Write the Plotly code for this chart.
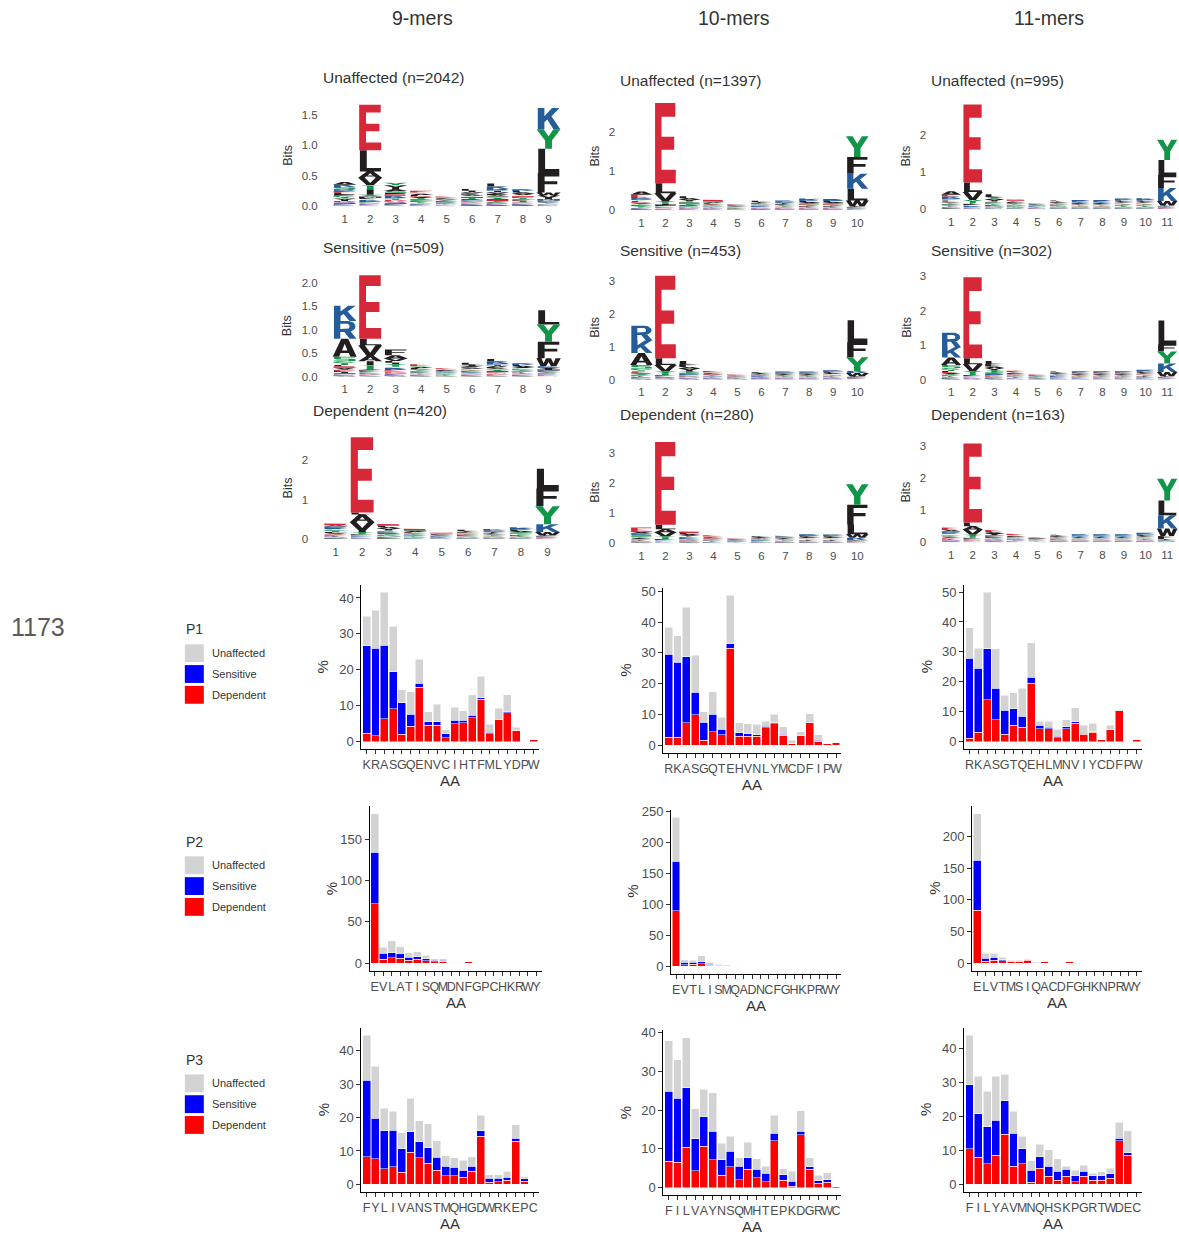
import numpy as np
import plotly.graph_objects as go

W, H = 1179, 1238
FONT = "Liberation Sans, Arial, sans-serif"
TICKC = "#4D4D4D"

# ================= BAR DATA (percent per amino acid) =================
aa_p1_9 = list("KRASGQENVCIHTFMLYDPW")
dep_p1_9 = [2.3, 1.7, 6.4, 9.2, 2.1, 4.3, 15.1, 4.6, 4.6, 1.1, 5.0, 5.3, 6.7, 11.8, 2.2, 6.1, 8.1, 3.2, 0.0, 0.5]
sen_p1_9 = [24.4, 24.3, 20.5, 10.3, 8.7, 3.3, 1.2, 1.0, 1.0, 1.1, 1.0, 0.7, 0.7, 0.5, 0.4, 0.2, 0.2, 0.0, 0.0, 0.0]
unf_p1_9 = [8.2, 10.6, 14.7, 12.7, 3.6, 6.3, 6.7, 2.7, 4.8, 1.1, 3.6, 2.6, 5.6, 5.9, 2.2, 3.0, 4.7, 0.8, 0.1, 0.1]

aa_p1_10 = list("RKASGQTEHVNLYMCDFIPW")
dep_p1_10 = [2.5, 2.5, 7.3, 9.9, 1.5, 4.4, 3.3, 31.5, 2.9, 2.9, 2.9, 5.7, 6.9, 3.2, 0.6, 3.1, 7.3, 1.3, 0.5, 0.7]
sen_p1_10 = [27.1, 24.4, 21.4, 7.3, 6.0, 5.7, 1.8, 1.5, 1.1, 0.8, 0.5, 0.4, 0.4, 0.3, 0.0, 0.1, 0.2, 0.2, 0.0, 0.05]
unf_p1_10 = [8.8, 8.6, 16.2, 12.0, 3.3, 7.3, 4.0, 15.7, 3.3, 3.3, 3.3, 1.6, 2.7, 2.5, 0.9, 1.2, 2.7, 1.9, 0.0, 0.0]

aa_p1_11 = list("RKASGTQEHLMNVIYCDFPW")
dep_p1_11 = [1.1, 3.1, 14.0, 7.4, 2.5, 5.5, 4.9, 19.6, 4.3, 4.3, 1.3, 4.4, 6.1, 2.5, 3.1, 0.6, 4.2, 10.4, 0.0, 0.7]
sen_p1_11 = [26.8, 21.4, 17.0, 10.5, 8.0, 5.5, 3.6, 1.9, 1.2, 0.6, 0.5, 0.6, 0.5, 0.3, 0.2, 0.0, 0.0, 0.0, 0.0, 0.0]
unf_p1_11 = [10.1, 6.8, 18.9, 13.2, 5.0, 5.4, 9.4, 11.6, 1.3, 1.9, 2.3, 2.4, 4.8, 2.7, 2.8, 0.0, 1.3, 0.3, 0.0, 0.0]

aa_p2_9 = list("EVLATISQMDNFGPCHKRWY")
dep_p2_9 = [72.0, 4.8, 6.4, 5.6, 3.2, 4.4, 2.8, 1.6, 2.0, 1.2, 1.0, 2.0, 1.0, 0.2, 0.3, 0.3, 0.3, 0.3, 0.3, 0.5]
sen_p2_9 = [62.0, 7.2, 6.4, 5.6, 4.0, 3.2, 2.4, 1.6, 1.2, 0.0, 0.0, 0.0, 0.0, 0.4, 0.0, 0.0, 0.0, 0.0, 0.0, 0.0]
unf_p2_9 = [46.8, 7.2, 14.0, 8.4, 5.6, 6.0, 4.4, 2.0, 2.0, 0.0, 0.0, 0.4, 0.0, 0.0, 0.0, 0.0, 0.0, 0.0, 0.0, 0.0]

aa_p2_10 = list("EVTLISMQADNCFGHKPRWY")
dep_p2_10 = [90.0, 2.7, 3.2, 4.3, 2.0, 1.0, 1.0, 0.3, 1.5, 0.8, 0.5, 0.5, 0.8, 0.5, 0.3, 0.3, 0.5, 0.5, 0.3, 0.3]
sen_p2_10 = [80.0, 4.2, 3.2, 3.2, 1.7, 1.1, 0.6, 0.8, 0.0, 0.0, 0.0, 0.0, 0.0, 0.0, 0.0, 0.0, 0.0, 0.0, 0.0, 0.0]
unf_p2_10 = [71.5, 3.8, 3.2, 9.5, 3.2, 1.1, 1.1, 0.2, 0.5, 0.2, 0.0, 0.0, 0.0, 0.0, 0.0, 0.0, 0.0, 0.0, 0.0, 0.0]

aa_p2_11 = list("ELVTMSIQACDFGHKNPRWY")
dep_p2_11 = [83.5, 2.6, 4.2, 3.7, 2.1, 2.1, 4.2, 0.0, 3.1, 0.3, 0.3, 2.1, 0.3, 0.3, 0.3, 0.3, 0.3, 0.3, 0.3, 0.3]
sen_p2_11 = [79.5, 5.2, 5.2, 2.0, 1.0, 1.0, 1.0, 1.0, 0.0, 0.0, 0.0, 0.0, 0.0, 0.0, 0.0, 0.0, 0.0, 0.0, 0.0, 0.0]
unf_p2_11 = [73.0, 7.9, 6.3, 3.7, 1.1, 1.1, 1.6, 0.0, 0.6, 0.0, 0.0, 0.0, 0.0, 0.0, 0.0, 0.0, 0.0, 0.0, 0.0, 0.0]

aa_p3_9 = list("FYLIVANSTMQHGDWRKEPC")
dep_p3_9 = [8.3, 7.6, 4.7, 5.3, 3.7, 9.6, 7.9, 6.4, 4.3, 2.6, 2.6, 2.1, 3.9, 14.4, 0.6, 0.8, 1.2, 12.9, 1.0, 0.1]
sen_p3_9 = [22.8, 12.2, 11.3, 10.9, 6.9, 6.2, 4.8, 4.5, 3.8, 2.9, 2.5, 2.1, 1.6, 1.6, 1.2, 1.1, 1.0, 0.9, 0.7, 0.0]
unf_p3_9 = [13.5, 15.6, 6.7, 5.7, 4.9, 10.0, 6.3, 7.2, 4.9, 3.0, 2.8, 3.0, 2.8, 4.7, 1.1, 1.0, 1.8, 4.0, 0.6, 0.0]

aa_p3_10 = list("FILVAYNSQMHTEPKDGRWC")
dep_p3_10 = [6.8, 6.6, 10.4, 4.4, 10.7, 7.2, 3.2, 5.4, 2.1, 4.7, 2.6, 1.5, 12.1, 1.9, 0.4, 13.6, 4.7, 1.1, 1.4, 0.0]
sen_p3_10 = [18.1, 16.5, 15.4, 8.2, 7.6, 7.3, 4.0, 4.0, 3.4, 3.0, 2.1, 2.2, 1.9, 1.5, 1.3, 0.9, 0.7, 0.7, 0.6, 0.3]
unf_p3_10 = [13.0, 9.9, 12.8, 7.8, 7.0, 10.0, 4.3, 3.8, 2.2, 4.0, 2.8, 1.8, 4.6, 1.5, 2.6, 5.3, 2.3, 1.4, 1.8, 0.0]

aa_p3_11 = list("FILYAVMNQHSKPGRTWDEC")
dep_p3_11 = [10.5, 7.9, 6.0, 8.5, 14.7, 5.4, 6.1, 0.7, 4.8, 2.4, 1.2, 2.4, 0.8, 2.4, 1.2, 1.2, 1.8, 12.8, 8.6, 0.1]
sen_p3_11 = [18.7, 12.9, 10.9, 10.3, 9.9, 9.6, 4.4, 3.5, 3.3, 2.9, 2.6, 2.0, 1.7, 1.4, 1.3, 1.3, 1.3, 0.8, 0.7, 0.0]
unf_p3_11 = [14.6, 10.9, 10.4, 13.0, 7.7, 6.5, 3.6, 2.8, 3.7, 4.8, 3.7, 1.0, 1.7, 1.8, 0.8, 1.2, 1.7, 4.6, 6.4, 0.0]

# ================= LOGO DATA (letter+bits, bottom -> top per position) =================
logo_unaff_9 = [
    "W.005 C.01 M.01 H.01 N.015 Q.015 D.02 I.02 V.02 T.02 G.025 F.025 L.025 E.03 R.03 S.035 K.04 A.045",
    "W.005 C.005 H.01 N.01 Q.01 D.01 G.015 R.015 K.02 S.02 F.02 M.02 Y.03 I.09 T.07 V.12 A.10 L.35 E.75",
    "W.005 C.01 H.01 M.01 N.015 Q.015 G.02 D.02 T.02 R.02 K.025 E.025 F.025 S.03 A.03 I.03 V.035 Y.04",
    "W.005 C.005 M.01 H.01 N.01 Q.01 I.01 Y.015 F.015 G.015 K.015 T.015 V.015 D.015 L.02 A.02 S.02 E.03",
    "W.005 C.005 M.005 H.005 N.005 Q.005 I.005 Y.01 F.01 G.01 K.01 R.01 T.01 V.01 D.01 L.01 A.01 S.01 E.015",
    "C.005 W.005 M.01 H.01 N.01 Q.01 D.01 Y.015 G.015 R.015 K.015 T.015 E.015 S.02 A.02 F.02 V.02 I.025 L.03",
    "C.005 W.005 M.01 N.01 Q.01 D.015 G.015 T.015 E.015 H.02 Y.02 S.02 A.02 F.025 V.025 I.025 R.03 K.04 L.05",
    "C.005 W.005 M.01 H.01 N.01 Q.01 D.01 Y.015 I.015 F.015 G.015 T.015 R.015 E.015 S.02 V.02 A.02 L.025 K.03",
    "C.005 D.005 E.005 G.005 N.005 Q.005 P.005 S.01 T.01 A.01 H.01 R.02 M.02 I.03 V.03 W.05 F.32 L.40 Y.32 K.35",
]
logo_unaff_10 = [
    "W.01 C.01 M.01 H.01 N.015 Q.015 I.015 Y.02 F.02 G.02 T.02 V.02 D.02 L.025 S.03 R.035 K.04 E.06 A.08",
    "W.005 C.005 H.01 N.01 Q.01 D.01 G.01 R.015 K.015 S.015 F.02 M.02 I.02 T.03 Y.04 V.20 L.25 E2.05",
    "W.005 C.005 M.01 H.01 N.01 Q.01 D.015 G.015 Y.015 R.02 K.02 T.02 E.02 F.02 S.025 I.025 V.03 A.03 L.05",
    "W.005 C.005 M.01 H.01 N.01 Q.01 I.01 Y.015 F.015 G.015 K.015 T.015 V.015 D.015 L.02 A.02 S.02 E.04",
    "W.005 C.005 M.005 H.005 N.005 Q.005 I.005 Y.01 F.01 G.01 K.01 R.01 T.01 V.01 D.01 L.01 A.01 S.01 E.015",
    "C.005 W.005 M.01 H.01 N.01 Q.01 D.01 Y.01 G.01 R.01 K.015 T.015 E.015 S.015 A.015 F.015 V.015 I.015 L.03",
    "C.005 W.005 M.01 H.01 N.01 Q.01 D.01 Y.01 G.01 E.01 T.015 S.015 A.015 F.015 V.015 I.015 R.02 L.02 K.03",
    "C.005 W.005 M.01 H.01 N.01 Q.01 D.01 Y.015 I.015 F.015 G.015 T.015 E.015 S.02 V.02 A.02 L.025 R.025 K.035",
    "C.005 W.005 M.01 H.01 N.01 Q.01 D.01 Y.015 I.015 F.015 G.015 T.015 E.015 S.02 V.02 A.02 L.025 R.02 K.03",
    "C.005 D.005 E.005 G.005 N.005 Q.005 P.005 S.005 T.005 A.005 H.01 R.01 M.01 I.01 V.01 W.15 L.30 K.38 F.43 Y.53",
]
logo_unaff_11 = [
    "W.01 C.01 M.01 H.01 N.015 Q.015 I.015 Y.02 F.02 G.02 T.02 V.02 D.02 L.025 S.03 R.035 K.045 E.05 A.09",
    "W.005 C.005 H.01 N.01 Q.01 D.01 G.01 R.015 K.015 S.015 F.02 M.02 I.02 T.03 Y.05 V.22 L.25 E2.1",
    "W.005 C.005 M.01 H.01 N.01 Q.01 D.015 G.015 R.02 K.02 T.02 E.02 F.02 S.025 I.025 V.03 A.03 Y.04 L.07",
    "W.005 C.005 M.01 H.01 N.01 Q.01 I.01 Y.015 F.015 G.015 K.015 T.015 V.015 D.015 L.02 A.02 S.02 E.035",
    "W.005 C.005 M.005 H.005 N.005 Q.005 I.005 Y.01 F.01 G.01 K.01 R.01 T.01 V.01 D.01 L.01 A.01 S.01 E.015",
    "C.005 W.005 M.01 H.01 N.01 Q.01 D.01 Y.01 G.01 R.01 K.015 T.015 E.015 S.015 A.015 F.015 V.015 I.015 L.025",
    "C.005 W.005 M.01 H.01 N.01 Q.01 D.01 Y.01 G.01 E.01 T.015 S.015 A.015 F.015 V.015 I.015 R.02 L.02 K.025",
    "C.005 W.005 M.01 H.01 N.01 Q.01 D.01 Y.01 G.01 E.01 T.015 S.015 A.015 F.015 V.015 I.015 R.02 L.02 K.025",
    "C.005 W.005 M.01 H.01 N.01 Q.01 D.01 Y.015 I.015 F.015 G.015 T.015 E.015 S.02 V.02 A.02 L.025 R.02 K.03",
    "C.005 W.005 M.01 H.01 N.01 Q.01 D.01 Y.015 I.015 F.015 G.015 T.015 E.015 S.02 V.02 A.02 L.025 R.025 K.035",
    "C.005 D.005 E.005 G.005 N.005 Q.005 P.005 S.005 T.005 A.005 H.01 R.01 M.01 I.01 V.01 W.12 K.35 F.35 L.40 Y.55",
]
logo_sens_9 = [
    "W.01 C.01 M.01 H.015 Q.015 N.02 I.02 F.02 D.02 Y.025 V.025 E.03 L.03 T.035 G.04 S.10 A.38 R.38 K.32",
    "W.005 C.005 H.01 N.01 Q.01 D.01 G.01 R.015 K.015 S.015 F.015 M.015 Y.02 T.09 I.08 A.12 V.22 L.14 E1.35",
    "W.01 C.01 M.01 H.015 N.015 Q.015 D.02 G.02 E.02 R.025 K.025 S.025 T.025 Y.03 I.03 L.04 V.05 A.07 F.12",
    "W.005 C.005 M.01 H.01 N.01 Q.01 I.01 Y.015 F.015 G.015 K.015 T.015 V.015 D.015 L.02 A.02 S.02 E.04",
    "W.005 C.005 M.005 H.005 N.005 Q.005 I.01 Y.01 F.01 G.01 K.01 R.01 T.01 V.01 D.01 L.01 A.015 S.015 E.02",
    "C.005 W.005 M.01 H.01 N.01 Q.01 D.01 Y.015 G.015 R.015 K.015 T.015 E.015 S.02 A.02 F.02 V.02 I.025 L.04",
    "C.005 W.005 M.01 N.01 Q.01 D.015 G.015 T.015 E.015 H.02 Y.02 S.02 A.02 F.025 V.025 I.025 R.03 K.04 L.05",
    "C.005 W.005 M.01 H.01 N.01 Q.01 D.01 Y.015 I.015 F.015 G.015 T.015 R.015 E.015 S.02 V.02 A.02 L.025 K.035",
    "C.01 D.01 E.01 G.01 N.01 Q.01 P.01 S.01 T.01 A.01 H.01 R.02 M.02 I.02 V.02 K.03 W.17 F.35 Y.37 L.30",
]
logo_sens_10 = [
    "W.01 C.01 M.01 H.015 Q.015 N.02 I.02 F.02 D.02 Y.025 V.025 E.03 L.03 T.035 G.04 S.12 A.36 K.38 R.45",
    "W.005 C.005 H.01 N.01 Q.01 D.01 G.01 R.015 K.015 S.015 F.015 M.015 T.06 Y.05 V.20 L.20 E2.5",
    "W.01 C.01 M.01 H.015 N.015 Q.015 D.02 G.02 E.02 R.025 K.025 S.025 T.025 Y.03 I.03 V.04 A.05 F.08 L.10",
    "W.005 C.005 M.01 H.01 N.01 Q.01 I.01 Y.015 F.015 G.015 K.015 T.015 V.015 D.015 L.02 A.02 S.02 E.035",
    "W.005 C.005 M.005 H.005 N.005 Q.005 I.005 Y.01 F.01 G.01 K.01 R.01 T.01 V.01 D.01 L.01 A.01 S.01 E.015",
    "C.005 W.005 M.01 H.01 N.01 Q.01 D.01 Y.01 G.01 R.01 K.015 T.015 E.015 S.015 A.015 F.015 V.015 I.015 L.025",
    "C.005 W.005 M.01 H.01 N.01 Q.01 D.01 Y.01 G.01 E.01 T.015 S.015 A.015 F.015 V.015 I.015 R.02 L.02 K.025",
    "C.005 W.005 M.01 H.01 N.01 Q.01 D.01 Y.01 G.01 E.01 T.015 S.015 A.015 F.015 V.015 I.015 R.02 L.02 K.025",
    "C.005 W.005 M.01 H.01 N.01 Q.01 D.01 Y.015 I.015 F.015 G.015 T.015 E.015 S.02 V.02 A.02 L.025 R.02 K.03",
    "C.005 D.005 E.005 G.005 N.005 Q.005 P.005 S.005 T.005 A.005 H.01 R.01 M.01 I.01 V.01 W.10 K.06 Y.42 F.45 L.67",
]
logo_sens_11 = [
    "W.01 C.01 M.01 H.015 Q.015 N.02 I.02 F.02 D.02 Y.025 V.025 E.03 L.03 T.035 G.04 S.10 A.22 K.30 R.42",
    "W.005 C.005 H.01 N.01 Q.01 D.01 G.01 R.015 K.015 S.015 F.015 M.015 T.06 Y.05 V.20 L.18 E2.35",
    "W.01 C.01 M.01 H.015 N.015 Q.015 D.02 G.02 E.02 R.025 K.025 S.025 T.025 Y.03 I.03 V.04 A.05 F.07 L.09",
    "W.005 C.005 M.01 H.01 N.01 Q.01 I.01 Y.015 F.015 G.015 K.015 T.015 V.015 D.015 L.02 A.02 S.02 E.035",
    "W.005 C.005 M.005 H.005 N.005 Q.005 I.005 Y.01 F.01 G.01 K.01 R.01 T.01 V.01 D.01 L.01 A.01 S.01 E.015",
    "C.005 W.005 M.01 H.01 N.01 Q.01 D.01 Y.01 G.01 R.01 K.015 T.015 E.015 S.015 A.015 F.015 V.015 I.015 L.025",
    "C.005 W.005 M.01 H.01 N.01 Q.01 D.01 Y.01 G.01 E.01 T.015 S.015 A.015 F.015 V.015 I.015 R.02 L.02 K.025",
    "C.005 W.005 M.01 H.01 N.01 Q.01 D.01 Y.01 G.01 E.01 T.015 S.015 A.015 F.015 V.015 I.015 R.02 L.02 K.025",
    "C.005 W.005 M.01 H.01 N.01 Q.01 D.01 Y.01 G.01 E.01 T.015 S.015 A.015 F.015 V.015 I.015 R.02 L.02 K.025",
    "C.005 W.005 M.01 H.01 N.01 Q.01 D.01 Y.015 I.015 F.015 G.015 T.015 E.015 S.02 V.02 A.02 L.025 R.02 K.03",
    "C.005 D.005 E.005 G.005 N.005 Q.005 P.005 S.005 T.005 A.005 H.01 R.01 M.01 I.01 V.01 W.12 K.25 Y.35 F.20 L.70",
]
logo_dep_9 = [
    "W.01 C.01 M.01 H.01 Q.015 N.015 I.015 F.015 D.02 Y.02 V.02 L.02 T.025 G.025 S.03 K.03 R.03 A.035 E.04",
    "W.005 C.005 H.01 N.01 Q.01 D.01 G.01 R.01 K.01 S.015 F.015 M.015 T.03 Y.03 I.04 V.20 A.20 L.05 E1.90",
    "W.01 C.01 M.01 H.01 N.015 Q.015 G.02 D.02 T.02 R.02 K.02 F.025 S.025 I.025 V.03 A.03 L.035 E.045",
    "W.005 C.005 M.01 H.01 N.01 Q.01 I.01 Y.015 F.015 G.015 K.015 T.015 V.015 D.015 L.02 A.02 S.02 E.04",
    "W.005 C.005 M.005 H.005 N.005 Q.005 I.005 Y.01 F.01 G.01 K.01 R.01 T.01 V.01 D.01 L.01 A.01 S.01 E.02",
    "C.005 W.005 M.01 H.01 N.01 Q.01 D.01 Y.01 G.01 R.01 K.015 T.015 E.015 S.015 A.015 F.015 V.015 I.015 L.03",
    "C.005 W.005 M.01 H.01 N.01 Q.01 D.01 Y.01 G.01 E.01 T.015 S.015 A.015 F.015 V.015 I.015 R.02 L.02 K.035",
    "C.005 W.005 M.01 H.01 N.01 Q.01 D.01 Y.015 I.015 F.015 G.015 T.015 E.015 S.02 V.02 A.02 L.025 R.025 K.04",
    "C.005 D.005 E.005 G.005 N.005 Q.005 P.005 S.005 T.005 A.005 H.01 R.01 M.01 I.01 V.01 W.08 K.20 Y.45 F.45 L.50",
]
logo_dep_10 = [
    "W.01 C.01 M.01 H.01 Q.015 N.015 I.015 F.015 D.02 Y.02 V.02 L.02 T.025 G.025 S.03 K.035 R.035 A.04 E.15",
    "W.005 C.005 H.01 N.01 Q.01 D.01 G.01 R.015 K.015 S.015 F.015 M.015 T.05 Y.04 V.14 A.10 L.15 E2.75",
    "W.01 C.01 M.01 H.01 N.015 Q.015 G.02 D.02 T.02 R.02 K.02 F.025 S.025 I.025 V.03 A.03 L.035 E.05",
    "W.005 C.005 M.01 H.01 N.01 Q.01 I.01 Y.015 F.015 G.015 K.015 T.015 V.015 D.015 L.02 A.02 S.02 E.04",
    "W.005 C.005 M.005 H.005 N.005 Q.005 I.005 Y.01 F.01 G.01 K.01 R.01 T.01 V.01 D.01 L.01 A.01 S.01 E.015",
    "C.005 W.005 M.01 H.01 N.01 Q.01 D.01 Y.01 G.01 R.01 K.015 T.015 E.015 S.015 A.015 F.015 V.015 I.015 L.025",
    "C.005 W.005 M.01 H.01 N.01 Q.01 D.01 Y.01 G.01 E.01 T.015 S.015 A.015 F.015 V.015 I.015 R.02 L.02 K.025",
    "C.005 W.005 M.01 H.01 N.01 Q.01 D.01 Y.015 I.015 F.015 G.015 T.015 E.015 S.02 V.02 A.02 L.025 R.025 K.035",
    "C.005 W.005 M.01 H.01 N.01 Q.01 D.01 Y.015 I.015 F.015 G.015 T.015 E.015 S.02 V.02 A.02 L.025 R.02 K.03",
    "C.005 D.005 E.005 G.005 N.005 Q.005 P.005 S.005 T.005 A.005 H.01 R.01 M.01 I.01 V.01 K.08 W.12 L.32 F.66 Y.68",
]
logo_dep_11 = [
    "W.01 C.01 M.01 H.01 Q.015 N.015 I.015 F.015 D.02 Y.02 V.02 L.02 T.025 G.025 S.03 K.035 R.035 A.05 E.08",
    "W.005 C.005 H.01 N.01 Q.01 D.01 G.01 R.015 K.015 S.015 F.015 M.015 T.05 Y.05 V.16 A.10 L.12 E2.47",
    "W.01 C.01 M.01 H.01 N.015 Q.015 G.02 D.02 T.02 R.02 K.02 F.025 S.025 I.025 V.03 A.03 L.035 E.04",
    "W.005 C.005 M.01 H.01 N.01 Q.01 I.01 Y.015 F.015 G.015 K.015 T.015 V.015 D.015 L.02 A.02 S.02 E.035",
    "W.005 C.005 M.005 H.005 N.005 Q.005 I.005 Y.01 F.01 G.01 K.01 R.01 T.01 V.01 D.01 L.01 A.01 S.01 E.015",
    "C.005 W.005 M.01 H.01 N.01 Q.01 D.01 Y.01 G.01 R.01 K.015 T.015 E.015 S.015 A.015 F.015 V.015 I.015 L.025",
    "C.005 W.005 M.01 H.01 N.01 Q.01 D.01 Y.01 G.01 E.01 T.015 S.015 A.015 F.015 V.015 I.015 R.02 L.02 K.025",
    "C.005 W.005 M.01 H.01 N.01 Q.01 D.01 Y.01 G.01 E.01 T.015 S.015 A.015 F.015 V.015 I.015 R.02 L.02 K.025",
    "C.005 W.005 M.01 H.01 N.01 Q.01 D.01 Y.01 G.01 E.01 T.015 S.015 A.015 F.015 V.015 I.015 R.02 L.02 K.025",
    "C.005 W.005 M.01 H.01 N.01 Q.01 D.01 Y.015 I.015 F.015 G.015 T.015 E.015 S.02 V.02 A.02 L.025 R.025 K.035",
    "C.005 D.005 E.005 G.005 N.005 Q.005 P.005 S.005 T.005 A.005 H.01 R.01 M.01 I.01 V.01 F.09 W.24 K.41 L.46 Y.68",
]

col_titles = ["9-mers", "10-mers", "11-mers"]
logo_titles = [["Unaffected (n=2042)", "Unaffected (n=1397)", "Unaffected (n=995)"],
               ["Sensitive (n=509)", "Sensitive (n=453)", "Sensitive (n=302)"],
               ["Dependent (n=420)", "Dependent (n=280)", "Dependent (n=163)"]]
group_names = ["Unaffected", "Sensitive", "Dependent"]
row_labels = ["P1", "P2", "P3"]
total_label = "1173"

# ================= STYLE =================
AA_COLORS = {}
for _c in "GSTYC": AA_COLORS[_c] = "#109648"
for _c in "QN": AA_COLORS[_c] = "#5E239D"
for _c in "KRH": AA_COLORS[_c] = "#255C99"
for _c in "DE": AA_COLORS[_c] = "#D62839"
for _c in "AVLIPWFM": AA_COLORS[_c] = "#221E1F"
BAR_COLORS = {"Dependent": "#FF0000", "Sensitive": "#0000FF", "Unaffected": "#D3D3D3"}


def arc(cx, cy, rx, ry, a0, a1, n=18):
    t = np.radians(np.linspace(a0, a1, n))
    return [(float(cx + rx * np.cos(a)), float(cy + ry * np.sin(a))) for a in t]


_P_OUT = [(0.06, 0), (0.32, 0), (0.32, 0.38), (0.6, 0.38)] + arc(0.6, 0.69, 0.34, 0.31, -90, 90) + [(0.06, 1)]
_P_HOLE = [(0.32, 0.54), (0.6, 0.54)] + arc(0.6, 0.69, 0.1, 0.15, -90, 90) + [(0.32, 0.84)]
GLYPHS = {
    "E": ([[(0.05, 0), (0.95, 0), (0.95, 0.17), (0.33, 0.17), (0.33, 0.42), (0.88, 0.42), (0.88, 0.58), (0.33, 0.58),
            (0.33, 0.83), (0.93, 0.83), (0.93, 1), (0.05, 1)]], []),
    "F": ([[(0.06, 0), (0.34, 0), (0.34, 0.42), (0.86, 0.42), (0.86, 0.58), (0.34, 0.58), (0.34, 0.83), (0.94, 0.83),
            (0.94, 1), (0.06, 1)]], []),
    "L": ([[(0.08, 0), (0.94, 0), (0.94, 0.17), (0.36, 0.17), (0.36, 1), (0.08, 1)]], []),
    "T": ([[(0.36, 0), (0.64, 0), (0.64, 0.83), (0.97, 0.83), (0.97, 1), (0.03, 1), (0.03, 0.83), (0.36, 0.83)]], []),
    "I": ([[(0.36, 0), (0.64, 0), (0.64, 1), (0.36, 1)]], []),
    "H": ([[(0.06, 0), (0.32, 0), (0.32, 0.42), (0.68, 0.42), (0.68, 0), (0.94, 0), (0.94, 1), (0.68, 1), (0.68, 0.58),
            (0.32, 0.58), (0.32, 1), (0.06, 1)]], []),
    "K": ([[(0.06, 0), (0.33, 0), (0.33, 0.33), (0.45, 0.46), (0.7, 0), (0.98, 0), (0.62, 0.62), (0.95, 1), (0.64, 1),
            (0.33, 0.62), (0.33, 1), (0.06, 1)]], []),
    "Y": ([[(0.36, 0), (0.64, 0), (0.64, 0.42), (0.99, 1), (0.7, 1), (0.5, 0.64), (0.3, 1), (0.01, 1), (0.36, 0.42)]], []),
    "V": ([[(0.35, 0), (0.65, 0), (0.99, 1), (0.72, 1), (0.5, 0.28), (0.28, 1), (0.01, 1)]], []),
    "A": ([[(0.01, 0), (0.27, 0), (0.33, 0.2), (0.67, 0.2), (0.73, 0), (0.99, 0), (0.64, 1), (0.36, 1)]],
          [[(0.39, 0.35), (0.61, 0.35), (0.5, 0.72)]]),
    "W": ([[(0, 1), (0.18, 0), (0.4, 0), (0.5, 0.55), (0.6, 0), (0.82, 0), (1, 1), (0.79, 1), (0.7, 0.38), (0.6, 1),
            (0.4, 1), (0.3, 0.38), (0.21, 1)]], []),
    "M": ([[(0.04, 0), (0.27, 0), (0.27, 0.66), (0.42, 0.14), (0.58, 0.14), (0.73, 0.66), (0.73, 0), (0.96, 0),
            (0.96, 1), (0.65, 1), (0.5, 0.45), (0.35, 1), (0.04, 1)]], []),
    "N": ([[(0.06, 0), (0.3, 0), (0.3, 0.62), (0.68, 0), (0.94, 0), (0.94, 1), (0.7, 1), (0.7, 0.38), (0.32, 1),
            (0.06, 1)]], []),
    "S": ([[(0.06, 0), (0.82, 0), (0.94, 0.1), (0.94, 0.47), (0.82, 0.58), (0.34, 0.58), (0.34, 0.83), (0.92, 0.83),
            (0.92, 1), (0.18, 1), (0.06, 0.9), (0.06, 0.53), (0.18, 0.42), (0.66, 0.42), (0.66, 0.17), (0.06, 0.17)]], []),
    "C": ([arc(0.5, 0.5, 0.49, 0.5, 40, 320, 24) + arc(0.5, 0.5, 0.24, 0.3, 320, 40, 24)], []),
    "G": ([arc(0.5, 0.5, 0.49, 0.5, 40, 360, 24) + arc(0.5, 0.5, 0.24, 0.3, 360, 40, 24),
           [(0.55, 0.36), (0.99, 0.36), (0.99, 0.52), (0.55, 0.52)]], []),
    "Q": ([arc(0.5, 0.52, 0.49, 0.48, 0, 360, 30), [(0.6, 0.2), (0.82, 0.2), (1.0, 0.0), (0.78, 0.0)]],
          [arc(0.5, 0.52, 0.24, 0.29, 0, 360, 30)]),
    "D": ([[(0.06, 0), (0.45, 0)] + arc(0.45, 0.5, 0.5, 0.5, -90, 90) + [(0.06, 1)]],
          [[(0.32, 0.17), (0.45, 0.17)] + arc(0.45, 0.5, 0.22, 0.33, -90, 90) + [(0.32, 0.83)]]),
    "P": ([_P_OUT], [_P_HOLE]),
    "R": ([_P_OUT, [(0.46, 0.42), (0.70, 0), (0.98, 0), (0.72, 0.45)]], [_P_HOLE]),
}

layout = dict(width=W, height=H, margin=dict(l=0, r=0, t=0, b=0), paper_bgcolor="white",
              plot_bgcolor="white", showlegend=False, barmode="stack", bargap=0.1,
              font=dict(family=FONT, color="#333333"), shapes=[], annotations=[])
traces = []
_nax = [0]


def add_axes(x0px, x1px, ytop_px, ybot_px, xr, yr):
    _nax[0] += 1
    k = _nax[0]
    s = "" if k == 1 else str(k)
    xa = dict(domain=[max(0, x0px / W), min(1, x1px / W)], range=xr, anchor="y" + s, showgrid=False,
              zeroline=False, fixedrange=True)
    ya = dict(domain=[max(0, 1 - ybot_px / H), min(1, 1 - ytop_px / H)], range=yr, anchor="x" + s,
              showgrid=False, zeroline=False, fixedrange=True)
    layout["xaxis" + s] = xa
    layout["yaxis" + s] = ya
    return "x" + s, "y" + s, xa, ya


def ann(text, x, y, size, color="#333333", xanchor="center", yanchor="middle", angle=0):
    layout["annotations"].append(dict(text=text, x=x / W, y=1 - y / H, xref="paper", yref="paper",
                                      showarrow=False, xanchor=xanchor, yanchor=yanchor, textangle=angle,
                                      font=dict(size=size, color=color, family=FONT)))


def parse(col):
    return [(tok[0], float(tok[1:])) for tok in col.split()]


def draw_logo(cols, px1, step, y0, s, yticks, yfmt, title, tx, ty, bits_x):
    n = len(cols)
    stacks = [parse(c) for c in cols]
    ymax = max(sum(h for _, h in st) for st in stacks)
    ytop = max(ymax * 1.01, yticks[-1] * 1.01)
    x0px = px1 - 0.5 * step
    x1px = px1 + (n - 0.5) * step
    xid, yid, xa, ya = add_axes(x0px, x1px, y0 - ytop * s, y0, [0.5, n + 0.5], [0, ytop])
    xa.update(tickmode="array", tickvals=list(range(1, n + 1)), ticktext=[str(i) for i in range(1, n + 1)],
              ticks="outside", ticklen=2, tickcolor="rgba(0,0,0,0)", tickangle=0,
              tickfont=dict(size=11.5, color=TICKC), showline=False)
    ya.update(tickmode="array", tickvals=yticks, ticktext=[yfmt.format(v) for v in yticks],
              ticks="outside", ticklen=11, tickcolor="rgba(0,0,0,0)",
              tickfont=dict(size=11.5, color=TICKC), showline=False)
    groups = {}
    holes_x, holes_y = [], []
    for i, st in enumerate(stacks, start=1):
        cum = 0.0
        bx0, bw = i - 0.48, 0.96
        for letter, h in st:
            fills, holes = GLYPHS[letter]
            gx, gy = groups.setdefault(AA_COLORS[letter], ([], []))
            for poly in fills:
                for u, v in poly:
                    gx.append(bx0 + u * bw)
                    gy.append(cum + v * h)
                gx.append(None)
                gy.append(None)
            for poly in holes:
                for u, v in poly:
                    holes_x.append(bx0 + u * bw)
                    holes_y.append(cum + v * h)
                holes_x.append(None)
                holes_y.append(None)
            cum += h
    for color, (gx, gy) in groups.items():
        traces.append(go.Scatter(x=gx, y=gy, mode="lines", fill="toself", fillcolor=color,
                                 line=dict(width=0, color=color), xaxis=xid, yaxis=yid, hoverinfo="skip"))
    traces.append(go.Scatter(x=holes_x, y=holes_y, mode="lines", fill="toself", fillcolor="white",
                             line=dict(width=0, color="white"), xaxis=xid, yaxis=yid, hoverinfo="skip"))
    ann(title, tx, ty, 15.5, "#333333", xanchor="left")
    ann("Bits", bits_x, y0 - ytop * s / 2, 12.5, "#333333", angle=-90)


def draw_bars(aa, dep, sen, unf, x0px, x1px, y0, s, yticks):
    n = len(aa)
    tot = [a + b + c for a, b, c in zip(dep, sen, unf)]
    m = max(tot)
    yr = [-0.05 * m, 1.05 * m]
    top = y0 - yr[1] * s
    bot = y0 - yr[0] * s
    xid, yid, xa, ya = add_axes(x0px, x1px, top, bot, [-0.6, n - 0.4], yr)
    axis_style = dict(showline=True, linecolor="black", linewidth=1.1, ticks="outside", ticklen=4,
                      tickcolor="#333333", tickwidth=1)
    xa.update(axis_style)
    xa.update(tickmode="array", tickvals=list(range(n)), ticktext=aa, tickangle=0,
              tickfont=dict(size=12.5, color=TICKC))
    ya.update(axis_style)
    ya.update(tickmode="array", tickvals=yticks, ticktext=[str(v) for v in yticks],
              tickfont=dict(size=13, color=TICKC))
    for vals, name in [(dep, "Dependent"), (sen, "Sensitive"), (unf, "Unaffected")]:
        traces.append(go.Bar(x=list(range(n)), y=vals, width=0.9, name=name,
                             marker=dict(color=BAR_COLORS[name], line=dict(color="white", width=0.5)),
                             xaxis=xid, yaxis=yid, hoverinfo="skip"))
    ann("%", x0px - 38, (top + bot) / 2, 15, "#333333", angle=-90)
    ann("AA", (x0px + x1px) / 2, bot + 32, 15, "#333333")


# ---------------- logos ----------------
logo_sets = [[logo_unaff_9, logo_unaff_10, logo_unaff_11],
             [logo_sens_9, logo_sens_10, logo_sens_11],
             [logo_dep_9, logo_dep_10, logo_dep_11]]
# geometry: (px of position 1, px step, px of 0 bits, px per bit, yticks, fmt, title x, title y, bits x)
logo_geom = [
    [(345, 25.5, 203, 61.3, [0, 0.5, 1.0, 1.5], "{:.1f}", 321, 73, 288),
     (642, 24.0, 207, 39.5, [0, 1, 2], "{:d}", 619, 76, 596),
     (952, 21.7, 206, 37.5, [0, 1, 2], "{:d}", 930, 76, 907)],
    [(345, 25.5, 375, 47.5, [0, 0.5, 1.0, 1.5, 2.0], "{:.1f}", 321, 245, 288),
     (642, 24.0, 378, 33.3, [0, 1, 2, 3], "{:d}", 619, 248, 596),
     (952, 21.7, 378, 34.7, [0, 1, 2, 3], "{:d}", 930, 248, 907)],
    [(336, 26.5, 539, 40.0, [0, 1, 2], "{:d}", 311, 409, 288),
     (642, 24.0, 543, 30.3, [0, 1, 2, 3], "{:d}", 619, 413, 596),
     (952, 21.7, 542, 32.3, [0, 1, 2, 3], "{:d}", 930, 413, 907)],
]
for r in range(3):
    for c in range(3):
        g = logo_geom[r][c]
        draw_logo(logo_sets[r][c], g[0], g[1], g[2], g[3], g[4], g[5], logo_titles[r][c], g[6], g[7], g[8])

# ---------------- bars ----------------
bar_sets = [
    [(aa_p1_9, dep_p1_9, sen_p1_9, unf_p1_9), (aa_p1_10, dep_p1_10, sen_p1_10, unf_p1_10),
     (aa_p1_11, dep_p1_11, sen_p1_11, unf_p1_11)],
    [(aa_p2_9, dep_p2_9, sen_p2_9, unf_p2_9), (aa_p2_10, dep_p2_10, sen_p2_10, unf_p2_10),
     (aa_p2_11, dep_p2_11, sen_p2_11, unf_p2_11)],
    [(aa_p3_9, dep_p3_9, sen_p3_9, unf_p3_9), (aa_p3_10, dep_p3_10, sen_p3_10, unf_p3_10),
     (aa_p3_11, dep_p3_11, sen_p3_11, unf_p3_11)],
]
# geometry: (x axis-left px, x right px, px of value 0, px per unit, y ticks)
bar_geom = [
    [(361.7, 539.5, 743.3, 3.625, [0, 10, 20, 30, 40]),
     (664, 842, 746.7, 3.1, [0, 10, 20, 30, 40, 50]),
     (965, 1143, 743.3, 3.02, [0, 10, 20, 30, 40, 50])],
    [(370, 542, 966.7, 0.833, [0, 50, 100, 150]),
     (671.7, 842, 970, 0.624, [0, 50, 100, 150, 200, 250]),
     (973, 1143, 966.7, 0.638, [0, 50, 100, 150, 200])],
    [(361.7, 539, 1190, 3.375, [0, 10, 20, 30, 40]),
     (664, 842, 1193.3, 3.917, [0, 10, 20, 30, 40]),
     (965, 1143, 1190, 3.44, [0, 10, 20, 30, 40])],
]
for r in range(3):
    for c in range(3):
        aa, d, se, u = bar_sets[r][c]
        g = bar_geom[r][c]
        draw_bars(aa, d, se, u, g[0], g[1], g[2], g[3], g[4])

# ---------------- headers, legends ----------------
for name, xc in zip(col_titles, [423, 735, 1050]):
    ann(name, xc, 13, 19.5, "#333333")
ann(total_label, 38, 628, 25, "#5A5A5A")

for r, ytitle in enumerate([630, 844, 1064]):
    ann(row_labels[r], 184, ytitle, 14, "#333333", xanchor="left")
    for j, gname in enumerate(group_names):
        yc = ytitle + 24 + 21 * j
        layout["shapes"].append(dict(type="rect", xref="paper", yref="paper",
                                     x0=185 / W, x1=204 / W, y0=1 - (yc + 9) / H, y1=1 - (yc - 9) / H,
                                     fillcolor=BAR_COLORS[gname], line=dict(width=0)))
        ann(gname, 210, yc, 11, "#333333", xanchor="left")

fig = go.Figure(data=traces, layout=layout)
fig.write_html("out.html", config={"displayModeBar": False, "staticPlot": True},
               post_script="document.body.style.margin='0px';document.body.style.overflow='hidden';")
